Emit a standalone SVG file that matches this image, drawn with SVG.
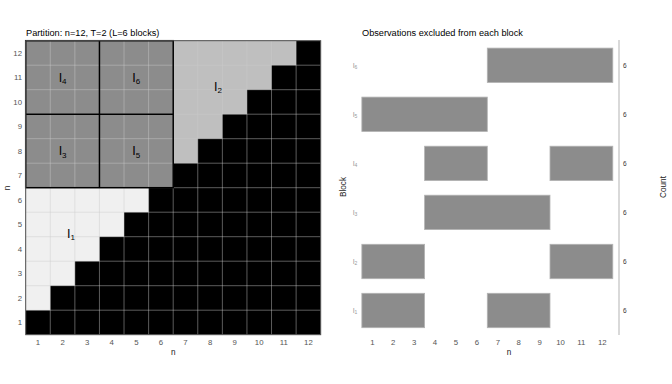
<svg xmlns="http://www.w3.org/2000/svg" width="672" height="384" viewBox="0 0 672 384">
<style>
text{font-family:"Liberation Sans",Arial,sans-serif}
.title{font-size:9.2px;fill:#000}
.tick{font-size:7.8px;fill:#555}
.axt{font-size:8.2px;fill:#222}
.blk{font-size:12.5px;fill:#000}
.sub{font-size:8px}
.rlab{font-size:7px;fill:#999}
.cnt{font-size:6.5px;fill:#333}
.grid line{stroke:#cccccc;stroke-opacity:0.45;stroke-width:1}
.bar{fill:#8c8c8c;stroke:#b3b3b3;stroke-width:0.8}
.bord{fill:none;stroke:#000;stroke-width:1.5}
</style>
<rect width="672" height="384" fill="#fff"/>
<text class="title" x="26" y="36">Partition: n=12, T=2 (L=6 blocks)</text>
<g id="matrix">
<rect x="25.7" y="40.7" width="295" height="294" fill="#000"/>
</g>
<g id="I1">
<polygon fill="#f0f0f0" points="25.7,187.7 148.62,187.7 148.62,212.2 124.03,212.2 124.03,236.7 99.45,236.7 99.45,261.2 74.87,261.2 74.87,285.7 50.28,285.7 50.28,310.2 25.7,310.2"/>
</g>
<g id="I2">
<polygon fill="#bfbfbf" points="173.2,40.7 296.12,40.7 296.12,65.2 271.53,65.2 271.53,89.7 246.95,89.7 246.95,114.2 222.37,114.2 222.37,138.7 197.78,138.7 197.78,163.2 173.2,163.2"/>
</g>
<g id="I3"><rect x="25.7" y="114.2" width="73.75" height="73.5" fill="#8c8c8c"/></g>
<g id="I4"><rect x="25.7" y="40.7" width="73.75" height="73.5" fill="#8c8c8c"/></g>
<g id="I5"><rect x="99.45" y="114.2" width="73.75" height="73.5" fill="#8c8c8c"/></g>
<g id="I6"><rect x="99.45" y="40.7" width="73.75" height="73.5" fill="#8c8c8c"/></g>
<g class="grid">
<line x1="50.28" y1="40.7" x2="50.28" y2="334.7"/>
<line x1="74.87" y1="40.7" x2="74.87" y2="334.7"/>
<line x1="99.45" y1="40.7" x2="99.45" y2="334.7"/>
<line x1="124.03" y1="40.7" x2="124.03" y2="334.7"/>
<line x1="148.62" y1="40.7" x2="148.62" y2="334.7"/>
<line x1="173.2" y1="40.7" x2="173.2" y2="334.7"/>
<line x1="197.78" y1="40.7" x2="197.78" y2="334.7"/>
<line x1="222.37" y1="40.7" x2="222.37" y2="334.7"/>
<line x1="246.95" y1="40.7" x2="246.95" y2="334.7"/>
<line x1="271.53" y1="40.7" x2="271.53" y2="334.7"/>
<line x1="296.12" y1="40.7" x2="296.12" y2="334.7"/>
<line x1="25.7" y1="65.2" x2="320.7" y2="65.2"/>
<line x1="25.7" y1="89.7" x2="320.7" y2="89.7"/>
<line x1="25.7" y1="114.2" x2="320.7" y2="114.2"/>
<line x1="25.7" y1="138.7" x2="320.7" y2="138.7"/>
<line x1="25.7" y1="163.2" x2="320.7" y2="163.2"/>
<line x1="25.7" y1="187.7" x2="320.7" y2="187.7"/>
<line x1="25.7" y1="212.2" x2="320.7" y2="212.2"/>
<line x1="25.7" y1="236.7" x2="320.7" y2="236.7"/>
<line x1="25.7" y1="261.2" x2="320.7" y2="261.2"/>
<line x1="25.7" y1="285.7" x2="320.7" y2="285.7"/>
<line x1="25.7" y1="310.2" x2="320.7" y2="310.2"/>
</g>
<g id="borders">
<rect class="bord" x="25.7" y="40.7" width="147.5" height="147"/>
<line class="bord" x1="99.45" y1="40.7" x2="99.45" y2="187.7"/>
<line class="bord" x1="25.7" y1="114.2" x2="173.2" y2="114.2"/>
</g>
<rect x="25.7" y="40.7" width="295" height="294" fill="none" stroke="#555" stroke-width="1"/>
<g id="labels-left">
<text class="blk" x="62.6" y="81.5" text-anchor="middle">I<tspan class="sub" dy="2.5">4</tspan></text>
<text class="blk" x="136.3" y="81.5" text-anchor="middle">I<tspan class="sub" dy="2.5">6</tspan></text>
<text class="blk" x="62.6" y="155" text-anchor="middle">I<tspan class="sub" dy="2.5">3</tspan></text>
<text class="blk" x="136.3" y="155" text-anchor="middle">I<tspan class="sub" dy="2.5">5</tspan></text>
<text class="blk" x="218" y="90.5" text-anchor="middle">I<tspan class="sub" dy="2.5">2</tspan></text>
<text class="blk" x="71" y="237.5" text-anchor="middle">I<tspan class="sub" dy="2.5">1</tspan></text>
</g>
<g id="ticks-left">
<g text-anchor="end">
<text class="tick" x="22" y="55.8">12</text>
<text class="tick" x="22" y="80.3">11</text>
<text class="tick" x="22" y="104.8">10</text>
<text class="tick" x="22" y="129.3">9</text>
<text class="tick" x="22" y="153.8">8</text>
<text class="tick" x="22" y="178.3">7</text>
<text class="tick" x="22" y="202.8">6</text>
<text class="tick" x="22" y="227.3">5</text>
<text class="tick" x="22" y="251.8">4</text>
<text class="tick" x="22" y="276.3">3</text>
<text class="tick" x="22" y="300.8">2</text>
<text class="tick" x="22" y="325.3">1</text>
</g>
<g text-anchor="middle">
<text class="tick" x="38" y="345">1</text>
<text class="tick" x="62.6" y="345">2</text>
<text class="tick" x="87.2" y="345">3</text>
<text class="tick" x="111.7" y="345">4</text>
<text class="tick" x="136.3" y="345">5</text>
<text class="tick" x="160.9" y="345">6</text>
<text class="tick" x="185.5" y="345">7</text>
<text class="tick" x="210.1" y="345">8</text>
<text class="tick" x="234.7" y="345">9</text>
<text class="tick" x="259.2" y="345">10</text>
<text class="tick" x="283.8" y="345">11</text>
<text class="tick" x="308.4" y="345">12</text>
</g>
</g>
<text class="axt" x="173.2" y="355" text-anchor="middle">n</text>
<text class="axt" x="0" y="0" text-anchor="middle" transform="translate(9.5,188) rotate(-90)">n</text>

<text class="title" x="362" y="36">Observations excluded from each block</text>
<g id="bars">
<rect class="bar" x="487.3" y="48.1" width="125.5" height="34.4"/>
<rect class="bar" x="361.85" y="97.1" width="125.45" height="34.4"/>
<rect class="bar" x="424.6" y="146.2" width="62.7" height="34.4"/>
<rect class="bar" x="550" y="146.2" width="62.8" height="34.4"/>
<rect class="bar" x="424.6" y="195.2" width="125.4" height="34.4"/>
<rect class="bar" x="361.85" y="244.3" width="62.75" height="34.4"/>
<rect class="bar" x="550" y="244.3" width="62.8" height="34.4"/>
<rect class="bar" x="361.85" y="293.3" width="62.75" height="34.4"/>
<rect class="bar" x="487.3" y="293.3" width="62.7" height="34.4"/>
</g>
<g id="labels-right" text-anchor="middle">
<text class="rlab" x="355" y="67.5">I<tspan font-size="5" dy="1.5">6</tspan></text>
<text class="rlab" x="355" y="116.5">I<tspan font-size="5" dy="1.5">5</tspan></text>
<text class="rlab" x="355" y="165.6">I<tspan font-size="5" dy="1.5">4</tspan></text>
<text class="rlab" x="355" y="214.6">I<tspan font-size="5" dy="1.5">3</tspan></text>
<text class="rlab" x="355" y="263.7">I<tspan font-size="5" dy="1.5">2</tspan></text>
<text class="rlab" x="355" y="312.7">I<tspan font-size="5" dy="1.5">1</tspan></text>
</g>
<line x1="619" y1="40" x2="619" y2="335" stroke="#cccccc" stroke-width="1.5"/>
<g id="counts">
<text class="cnt" x="623" y="67.6">6</text>
<text class="cnt" x="623" y="116.6">6</text>
<text class="cnt" x="623" y="165.7">6</text>
<text class="cnt" x="623" y="214.7">6</text>
<text class="cnt" x="623" y="263.8">6</text>
<text class="cnt" x="623" y="312.8">6</text>
</g>
<g id="ticks-right" text-anchor="middle">
<text class="tick" x="372.3" y="345">1</text>
<text class="tick" x="393.2" y="345">2</text>
<text class="tick" x="414.1" y="345">3</text>
<text class="tick" x="435" y="345">4</text>
<text class="tick" x="455.9" y="345">5</text>
<text class="tick" x="476.8" y="345">6</text>
<text class="tick" x="497.8" y="345">7</text>
<text class="tick" x="518.7" y="345">8</text>
<text class="tick" x="539.6" y="345">9</text>
<text class="tick" x="560.5" y="345">10</text>
<text class="tick" x="581.4" y="345">11</text>
<text class="tick" x="602.3" y="345">12</text>
</g>
<text class="axt" x="509" y="355" text-anchor="middle">n</text>
<text class="axt" x="0" y="0" text-anchor="middle" transform="translate(346,187) rotate(-90)">Block</text>
<text class="axt" x="0" y="0" text-anchor="middle" transform="translate(666,187) rotate(-90)">Count</text>
</svg>
